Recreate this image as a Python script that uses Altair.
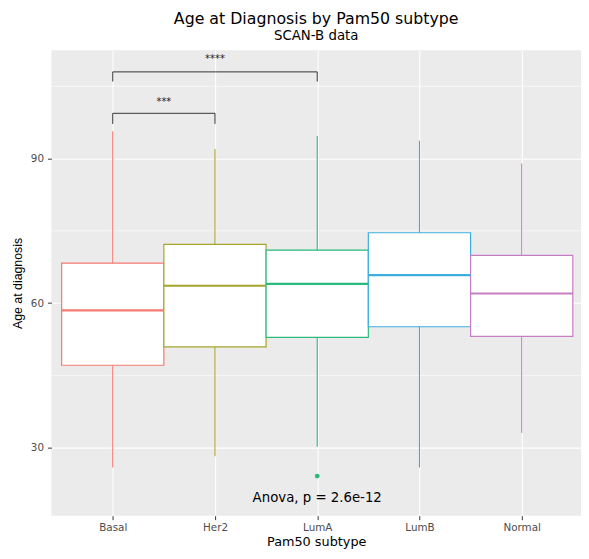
import altair as alt
import pandas as pd

# ---- data ----
subtypes = ["Basal", "Her2", "LumA", "LumB", "Normal"]
whisker_low = [25.9, 28.2, 30.2, 25.9, 33.1]
q1 = [47.1, 50.9, 52.9, 55.1, 53.1]
median = [58.5, 63.6, 64.0, 65.8, 62.0]
q3 = [68.3, 72.2, 71.0, 74.6, 69.9]
whisker_high = [95.7, 92.0, 94.7, 93.7, 89.0]
colors = ["#F47B72", "#A5A52C", "#2BBA7E", "#3DAEE0", "#C57EC1"]

outlier_subtype = ["LumA"]
outlier_age = [24.1]

bracket_from = ["Basal", "Basal"]
bracket_to = ["Her2", "LumA"]
bracket_y = [99.4, 108.0]
bracket_tip = [97.2, 106.0]
bracket_label = ["***", "****"]
bracket_label_y = [101.2, 110.0]

anova_label = ["Anova, p = 2.6e-12"]
anova_subtype = ["LumA"]
anova_y = [19.5]

minor_grid = [45, 75, 105]
major_ticks = [30, 60, 90]

# ---- tables ----
pos = {s: i + 1 for i, s in enumerate(subtypes)}
box = pd.DataFrame({
    "subtype": subtypes,
    "pos": [pos[s] for s in subtypes],
    "low": whisker_low, "q1": q1, "median": median, "q3": q3, "high": whisker_high,
})
box["left"] = box["pos"] - 0.5
box["right"] = box["pos"] + 0.5

out = pd.DataFrame({"subtype": outlier_subtype,
                    "pos": [pos[s] for s in outlier_subtype],
                    "age": outlier_age})

br = pd.DataFrame({
    "x1": [pos[s] for s in bracket_from],
    "x2": [pos[s] for s in bracket_to],
    "y": bracket_y, "tip": bracket_tip,
    "label": bracket_label, "ly": bracket_label_y,
})
br["mid"] = (br["x1"] + br["x2"]) / 2
br_v = pd.DataFrame({
    "x": list(br["x1"]) + list(br["x2"]),
    "y": list(br["y"]) * 2,
    "tip": list(br["tip"]) * 2,
})

anova = pd.DataFrame({"label": anova_label,
                      "pos": [pos[s] for s in anova_subtype],
                      "y": anova_y})
minor = pd.DataFrame({"y": minor_grid})

FONT = "DejaVu Sans"
YFONT = "Liberation Sans"
xscale = alt.Scale(domain=[0.4, 5.58], nice=False, zero=False)
yscale = alt.Scale(domain=[15.87, 112.5], nice=False, zero=False)
label_expr = "[" + ",".join("'%s'" % s for s in subtypes) + "][datum.value - 1]"
xaxis = alt.Axis(values=[1, 2, 3, 4, 5], labelExpr=label_expr, title="Pam50 subtype",
                 grid=True)
yaxis = alt.Axis(values=major_ticks, title="Age at diagnosis", grid=True)
color = alt.Color("subtype:N", scale=alt.Scale(domain=subtypes, range=colors), legend=None)


def X(field):
    return alt.X(field, type="quantitative", scale=xscale, axis=xaxis)


def Y(field):
    return alt.Y(field, type="quantitative", scale=yscale, axis=yaxis)


minor_layer = alt.Chart(minor).mark_rule(color="white", strokeWidth=0.6).encode(y=Y("y"))

whiskers = alt.Chart(box).mark_rule(strokeWidth=1.1).encode(
    x=X("pos"), y=Y("low"), y2="high", color=color)

boxes = alt.Chart(box).mark_bar(fill="white", strokeWidth=1.2).encode(
    x=X("left"), x2="right", y=Y("q1"), y2="q3", stroke=color)

medians = alt.Chart(box).mark_rule(strokeWidth=2.2).encode(
    x=X("left"), x2="right", y=Y("median"), color=color)

outliers = alt.Chart(out).mark_circle(size=24, opacity=1).encode(
    x=X("pos"), y=Y("age"), color=color)

br_h = alt.Chart(br).mark_rule(color="#333333", strokeWidth=1).encode(
    x=X("x1"), x2="x2", y=Y("y"))
br_vert = alt.Chart(br_v).mark_rule(color="#333333", strokeWidth=1).encode(
    x=X("x"), y=Y("tip"), y2="y")
br_text = alt.Chart(br).mark_text(font=FONT, fontSize=10, color="#222222",
                                  baseline="alphabetic").encode(
    x=X("mid"), y=Y("ly"), text="label")

anova_text = alt.Chart(anova).mark_text(font=FONT, fontSize=13.5, color="black",
                                        baseline="middle").encode(
    x=X("pos"), y=Y("y"), text="label")

chart = alt.layer(
    minor_layer, whiskers, boxes, medians, outliers, br_h, br_vert, br_text, anova_text
).properties(
    width=537,
    height=472,
    autosize=alt.AutoSizeParams(type="none"),
    padding={"left": 44, "top": 39, "right": 0, "bottom": 32},
    title=alt.Title(
        "Age at Diagnosis by Pam50 subtype",
        subtitle="SCAN-B data",
        font=FONT, fontSize=16, fontWeight="normal", color="black",
        subtitleFont=FONT, subtitleFontSize=13.5, subtitleColor="black",
        anchor="middle", offset=8, subtitlePadding=2,
    ),
).configure_view(
    fill="#EBEBEB", stroke=None
).configure_axis(
    domain=False,
    gridColor="white", gridWidth=1.1, gridOpacity=1,
    tickColor="#333333", tickSize=4, tickWidth=1,
    labelColor="#4D4D4D", labelFont=FONT, labelFontSize=10.5,
    titleFont=FONT, titleFontSize=13, titleFontWeight="normal", titleColor="black",
).configure_axisY(
    labelPadding=4, titleFont=YFONT, titleFontSize=12.5, titlePadding=6
).configure_axisX(
    labelPadding=3, titlePadding=3
)

chart.save("out.html", embed_options={"renderer": "svg", "actions": False})
